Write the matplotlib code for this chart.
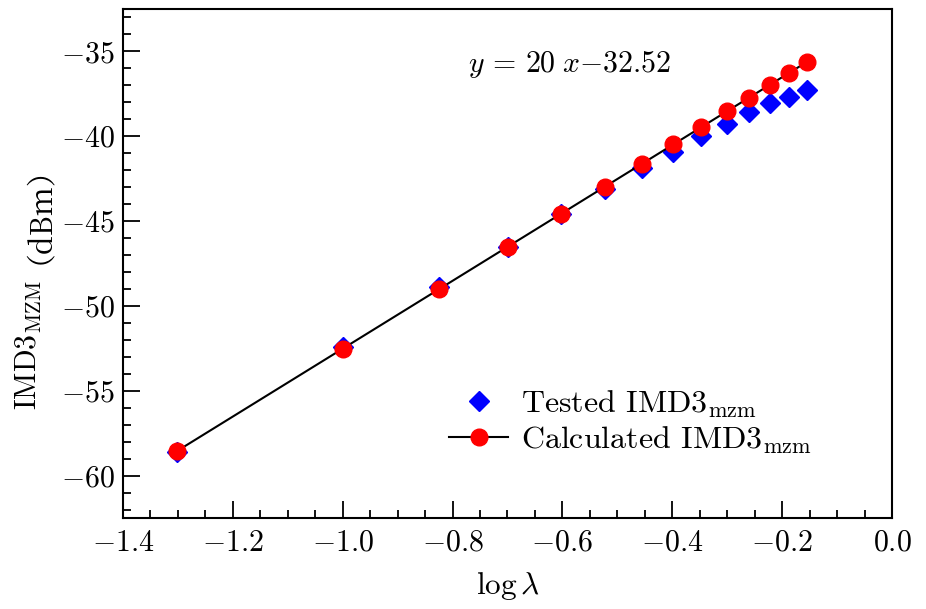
import matplotlib
matplotlib.use("Agg")
import matplotlib.pyplot as plt
from matplotlib.ticker import MultipleLocator

plt.rcParams['font.family'] = ['cmr10', 'Noto Sans CJK SC']
plt.rcParams['mathtext.fontset'] = 'cm'
plt.rcParams['axes.formatter.use_mathtext'] = True
plt.rcParams['axes.unicode_minus'] = True

log_lambda = [-1.301, -1.0, -0.824, -0.699, -0.602, -0.523, -0.456,
              -0.398, -0.347, -0.301, -0.260, -0.222, -0.187, -0.155]
tested = [-58.6, -52.4, -48.9, -46.5, -44.6, -43.1, -41.85,
          -40.9, -40.0, -39.27, -38.6, -38.05, -37.7, -37.26]
calculated = [-58.54, -52.52, -49.0, -46.5, -44.56, -42.98, -41.64,
              -40.48, -39.46, -38.54, -37.72, -36.96, -36.26, -35.62]

W, H = 926, 609
fig = plt.figure(figsize=(W / 100, H / 100), dpi=100)
ax = fig.add_axes([123 / W, 1 - 518 / H, (892 - 123) / W, (518 - 9) / H])

ax.plot(log_lambda, tested, linestyle='none', marker='D', color='blue',
        markersize=10, label=r'Tested IMD3$_{\rm mzm}$', zorder=3)
ax.plot(log_lambda, calculated, color='black', linewidth=1.5, marker='o',
        markerfacecolor='red', markeredgecolor='red', markersize=12,
        label=r'Calculated IMD3$_{\rm mzm}$', zorder=4)

ax.set_xlim(-1.4, 0.0)
ax.set_ylim(-62.5, -32.5)
ax.xaxis.set_major_locator(MultipleLocator(0.2))
ax.xaxis.set_minor_locator(MultipleLocator(0.05))
ax.yaxis.set_major_locator(MultipleLocator(5))
ax.yaxis.set_minor_locator(MultipleLocator(1))
ax.tick_params(which='both', direction='in', top=False, right=False,
               labelsize=21.5, width=1.3)
ax.tick_params(which='major', length=12)
ax.tick_params(which='minor', length=6)
ax.tick_params(axis='x', which='major', pad=8)
ax.tick_params(axis='y', which='major', pad=6)
ax.xaxis.set_major_formatter(plt.FuncFormatter(lambda v, p: r'$%.1f$' % v if abs(v) > 1e-9 else r'$0.0$'))
ax.yaxis.set_major_formatter(plt.FuncFormatter(lambda v, p: r'$%d$' % round(v)))
for s in ax.spines.values():
    s.set_linewidth(1.5)

ax.set_xlabel(r'$\log\lambda$', fontsize=22.5, labelpad=10)

# y label: "IMD3_MZM" (math subscript) followed by "（dBm）"
t1 = fig.text(37 / W, 1 - 410 / H, r'IMD3$_{\rm MZM}$', rotation=90,
              rotation_mode='anchor', ha='left', va='baseline', fontsize=21.5)
fig.canvas.draw()
renderer = fig.canvas.get_renderer()
ytop = t1.get_window_extent(renderer).y1
fig.text(25 / W, (ytop + 16) / H, '（dBm）', rotation=90,
         ha='center', va='bottom', fontsize=21.5,
         family=['Noto Serif CJK SC', 'Noto Sans CJK SC'])

ax.text(-0.772, -35.73, r'$y\,=\,20\;x{-}32.52$', fontsize=21.5, va='center', ha='left')

ax.legend(loc='upper left', bbox_to_anchor=(0.424, 0.255), frameon=False,
          fontsize=23, handlelength=1.85, handletextpad=0.4, labelspacing=0.15,
          borderpad=0.0, borderaxespad=0.0)

fig.savefig('out.png', dpi=100)
